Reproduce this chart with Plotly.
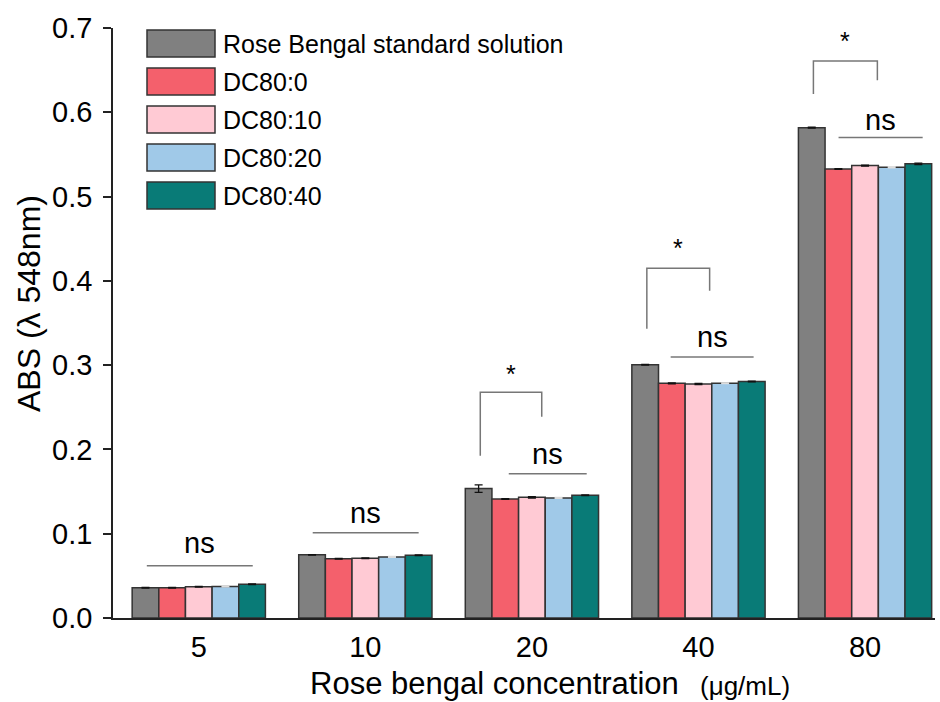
import plotly.graph_objects as go

# ---- data ----
categories = ["5", "10", "20", "40", "80"]
series_names = ["Rose Bengal standard solution", "DC80:0", "DC80:10", "DC80:20", "DC80:40"]
rb_standard = [0.0358, 0.0749, 0.1535, 0.3005, 0.5818]
dc80_0 = [0.0358, 0.0702, 0.1413, 0.2784, 0.5328]
dc80_10 = [0.0370, 0.0709, 0.1432, 0.2776, 0.5368]
dc80_20 = [0.0373, 0.0725, 0.1425, 0.2784, 0.5348]
dc80_40 = [0.0400, 0.0745, 0.1456, 0.2807, 0.5388]
err_standard = [0.0004, 0.0004, 0.0045, 0.0004, 0.0005]
err_0 = [0.0004, 0.0004, 0.0004, 0.0006, 0.0004]
err_10 = [0.0004, 0.0004, 0.0008, 0.0006, 0.0005]
err_20 = [0.0004, 0.0005, 0.0005, 0.0004, 0.0008]
err_40 = [0.0004, 0.0004, 0.0004, 0.0004, 0.0009]
y_ticks = [0.0, 0.1, 0.2, 0.3, 0.4, 0.5, 0.6, 0.7]
x_title = "Rose bengal concentration"
x_unit = "(μg/mL)"
y_title = "ABS (λ 548nm)"

values = [rb_standard, dc80_0, dc80_10, dc80_20, dc80_40]
errors = [err_standard, err_0, err_10, err_20, err_40]

# ---- styles ----
colors = ["#808080", "#F4606C", "#FFCAD4", "#A0C9E8", "#097B77"]
err_colors = ["#111111", "#111111", "#111111", "#DDDDDD", "#111111"]
FONT = "Liberation Sans, Arial, sans-serif"
n_series = len(series_names)
group_w = 0.8
bar_w = group_w / n_series

fig = go.Figure()
xs = list(range(len(categories)))
for j in range(n_series):
    fig.add_trace(go.Bar(
        x=xs, y=values[j], name=series_names[j],
        marker=dict(color=colors[j], line=dict(color="#333333", width=1.5)),
        error_y=dict(type="data", array=errors[j], color=err_colors[j], thickness=1.3, width=4),
        showlegend=False,
    ))

# ---- significance annotations (layout levels) ----
ns_levels = [(0.062, 0.0895, -0.312, 0.324), (0.101, 0.124, -0.316, 0.32),
             (0.171, 0.194, -0.139, 0.329), (0.3096, 0.3337, -0.167, 0.331),
             (0.570, 0.591, -0.159, 0.346)]
star_brackets = {2: (0.1926, 0.2389, 0.2677, 0.289, 0.059),
                 3: (0.3432, 0.3882, 0.4151, 0.4393, 0.067),
                 4: (0.6217, 0.638, 0.6609, 0.6849, 0.074)}
gray_off = (0 - (n_series - 1) / 2) * bar_w

shapes = []
annots = []
for i, (ly, ty, x0, x1) in enumerate(ns_levels):
    shapes.append(dict(type="line", xref="x", yref="y", x0=i + x0, x1=i + x1, y0=ly, y1=ly,
                       line=dict(color="#777777", width=1.5)))
    annots.append(dict(x=i + (x0 + x1) / 2, y=ty, xref="x", yref="y", text="ns", showarrow=False,
                       font=dict(family=FONT, size=29, color="black")))
for i, (lb, rb, top, st, rx) in star_brackets.items():
    lx = i + gray_off + 0.01
    shapes.append(dict(type="path", xref="x", yref="y",
                       path=f"M {lx} {lb} L {lx} {top} L {i + rx} {top} L {i + rx} {rb}",
                       line=dict(color="#777777", width=1.5)))
    annots.append(dict(x=(lx + i + rx) / 2, y=st, xref="x", yref="y", text="*", showarrow=False,
                       font=dict(family=FONT, size=25, color="black")))

# ---- custom legend (big swatches) ----
L, T, W, H = 113, 28, 822, 590
def px_x(p):
    return (p - L) / W
def px_y(p):
    return (T + H - p) / H
for j in range(n_series):
    top = 30 + 38 * j
    shapes.append(dict(type="rect", xref="paper", yref="paper",
                       x0=px_x(147), x1=px_x(215), y0=px_y(top + 27), y1=px_y(top),
                       fillcolor=colors[j], line=dict(color="#333333", width=1.5)))
    annots.append(dict(x=px_x(221), y=px_y(top + 14), xref="paper", yref="paper",
                       xanchor="left", yanchor="middle", text=series_names[j], showarrow=False,
                       font=dict(family=FONT, size=25, color="black")))

# axis titles
annots.append(dict(x=px_x(29), y=px_y(304), xref="paper", yref="paper", textangle=-90,
                   text=y_title, showarrow=False, xanchor="center", yanchor="middle",
                   font=dict(family=FONT, size=32, color="black")))
annots.append(dict(x=px_x(308), y=px_y(683), xref="paper", yref="paper",
                   text=x_title, showarrow=False, xanchor="left", yanchor="middle",
                   font=dict(family=FONT, size=31, color="black")))
annots.append(dict(x=px_x(698), y=px_y(686), xref="paper", yref="paper",
                   text=x_unit, showarrow=False, xanchor="left", yanchor="middle",
                   font=dict(family=FONT, size=26, color="black")))

fig.update_layout(
    width=940, height=702,
    margin=dict(l=L, r=940 - L - W, t=T, b=702 - T - H),
    paper_bgcolor="white", plot_bgcolor="white",
    barmode="group", bargap=1 - group_w, bargroupgap=0,
    shapes=shapes, annotations=annots,
    font=dict(family=FONT, color="black"),
)
fig.update_xaxes(range=[-0.515, 4.42], tickmode="array", tickvals=xs, ticktext=categories,
                 showline=True, linecolor="#222222", linewidth=1.5, ticks="", showgrid=False,
                 zeroline=False, ticklabelstandoff=2, tickfont=dict(family=FONT, size=29, color="black"))
fig.update_yaxes(range=[0, 0.7], tickmode="array", tickvals=y_ticks,
                 ticktext=[f"{v:.1f}" for v in y_ticks],
                 showline=True, linecolor="#222222", linewidth=1.5, ticks="outside", ticklen=8,
                 tickcolor="#222222", tickwidth=1.5, showgrid=False, zeroline=False,
                 ticklabelstandoff=5, tickfont=dict(family=FONT, size=29, color="black"))

fig.write_html("out.html", config={"displayModeBar": False},
               post_script="document.body.style.margin='0';document.body.style.overflow='hidden';")
